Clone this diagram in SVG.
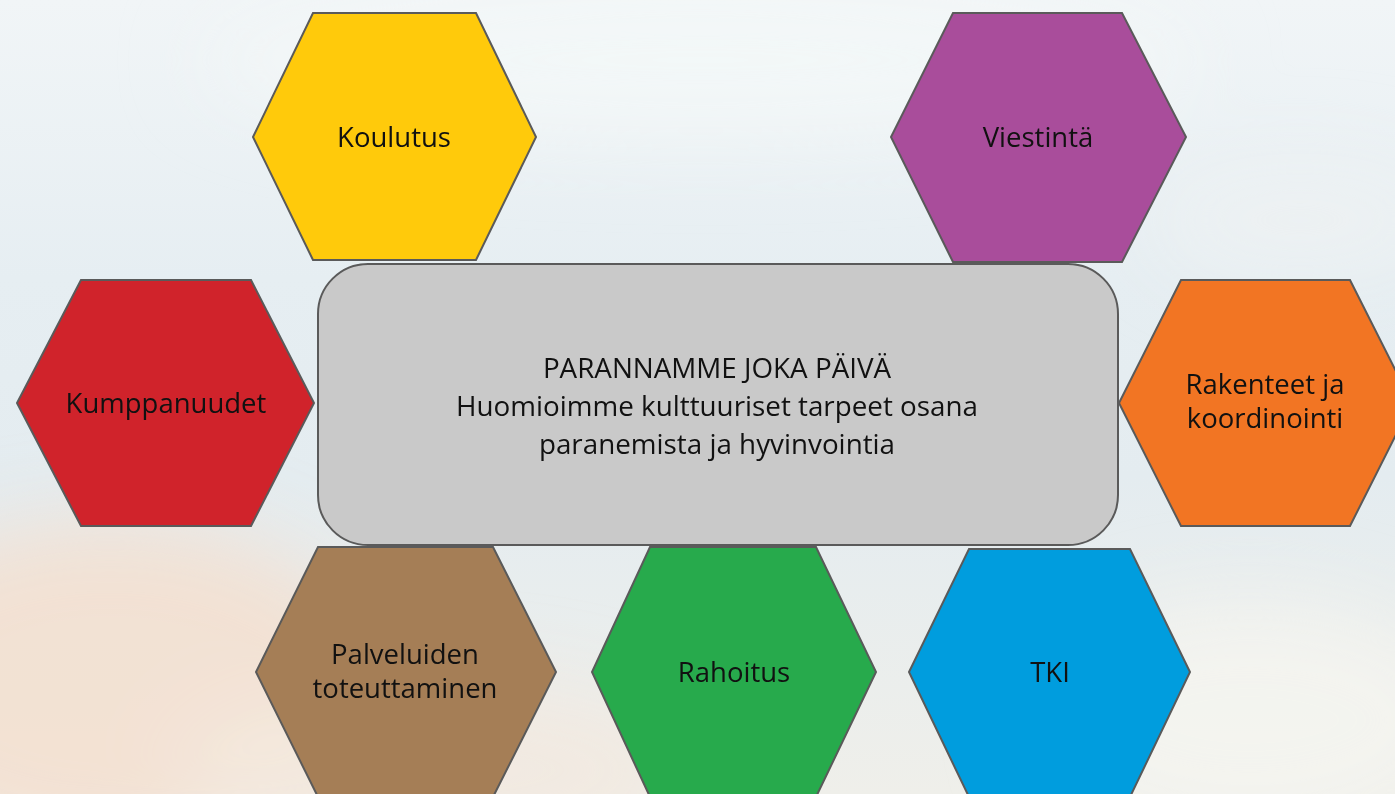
<svg xmlns="http://www.w3.org/2000/svg" width="1395" height="794" viewBox="0 0 1395 794">
<defs>
<linearGradient id="bg" x1="0" y1="0" x2="0" y2="1">
<stop offset="0" stop-color="#F1F5F7"/>
<stop offset="0.35" stop-color="#E6EEF2"/>
<stop offset="0.6" stop-color="#E4ECF0"/>
<stop offset="1" stop-color="#EFEFEA"/>
</linearGradient>
<filter id="blur" x="-50%" y="-50%" width="200%" height="200%"><feGaussianBlur stdDeviation="40"/></filter>
<style>
.hex{stroke:#5A5A5A;stroke-width:2;stroke-linejoin:miter}
.lbl{font-family:"Open Sans","Liberation Sans",sans-serif;font-size:27.5px;fill:#111;text-anchor:middle}
.ctr{font-family:"Open Sans","Liberation Sans",sans-serif;font-size:27.8px;fill:#111;text-anchor:middle}
</style>
</defs>
<g id="background">
<rect width="1395" height="794" fill="url(#bg)"/>
<g filter="url(#blur)">
<ellipse cx="110" cy="690" rx="270" ry="170" fill="#F3E0D0" opacity="0.9"/>
<ellipse cx="430" cy="770" rx="260" ry="90" fill="#F2E9DE" opacity="0.8"/>
<ellipse cx="1250" cy="720" rx="220" ry="120" fill="#F4F4F0" opacity="0.9"/>
<ellipse cx="700" cy="60" rx="500" ry="80" fill="#F4F7F8" opacity="0.8"/>
<ellipse cx="1300" cy="220" rx="150" ry="60" fill="#EEF1F2" opacity="0.8"/>
</g>
</g>
<g id="connectors"></g>
<g id="node-koulutus">
<polygon class="hex" fill="#FFCA0B" points="313,13 476,13 536,137 476,260 313,260 253,137"/>
<text class="lbl" x="394" y="147">Koulutus</text>
</g>
<g id="node-viestinta">
<polygon class="hex" fill="#A94D9B" points="953,13 1122,13 1186,137 1122,262 953,262 891,137"/>
<text class="lbl" x="1038" y="147">Viestintä</text>
</g>
<g id="node-kumppanuudet">
<polygon class="hex" fill="#D0232B" points="81,280 251,280 314,403 251,526 81,526 17,403"/>
<text class="lbl" x="166" y="413">Kumppanuudet</text>
</g>
<g id="node-rakenteet">
<polygon class="hex" fill="#F27523" points="1181,280 1350,280 1412,403 1350,526 1181,526 1119,403"/>
<text class="lbl" x="1265" y="394">Rakenteet ja</text>
<text class="lbl" x="1265" y="428">koordinointi</text>
</g>
<g id="node-palveluiden">
<polygon class="hex" fill="#A57E56" points="318,547 493,547 556,672 493,797 318,797 256,672"/>
<text class="lbl" x="405" y="664">Palveluiden</text>
<text class="lbl" x="405" y="698">toteuttaminen</text>
</g>
<g id="node-rahoitus">
<polygon class="hex" fill="#27AA4C" points="650,547 816,547 876,672 816,797 650,797 592,672"/>
<text class="lbl" x="734" y="682">Rahoitus</text>
</g>
<g id="node-tki">
<polygon class="hex" fill="#009DDE" points="969,549 1130,549 1190,672 1130,797 969,797 909,672"/>
<text class="lbl" x="1050" y="682">TKI</text>
</g>
<g id="node-center">
<rect x="318" y="264" width="800" height="281" rx="50" ry="50" fill="#C9C9C9" stroke="#5A5A5A" stroke-width="2"/>
<text class="ctr" x="717" y="378">PARANNAMME JOKA PÄIVÄ</text>
<text class="ctr" x="717" y="416">Huomioimme kulttuuriset tarpeet osana</text>
<text class="ctr" x="717" y="454">paranemista ja hyvinvointia</text>
</g>
</svg>
